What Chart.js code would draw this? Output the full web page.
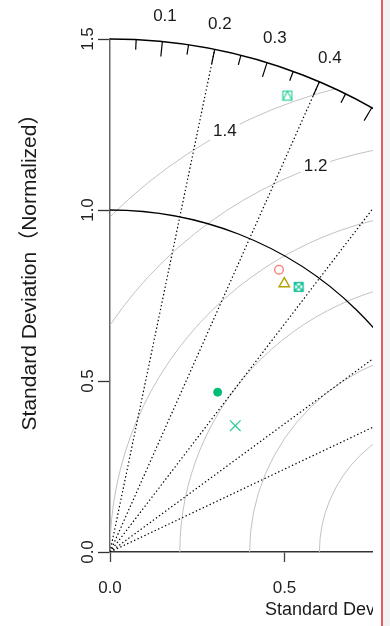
<!DOCTYPE html>
<html>
<head>
<meta charset="utf-8">
<script src="https://cdn.jsdelivr.net/npm/chart.js@4.4.1/dist/chart.umd.min.js"></script>
<style>
  html, body { margin: 0; padding: 0; background: #f2f2f2; }
  #wrap { position: absolute; left: 0; top: 0; width: 381px; height: 626px; background: #fff; border-right: 2px solid #e35b5e; overflow: hidden; }
  canvas { display: block; }
</style>
</head>
<body>
<div id="wrap"><canvas id="taylor" width="373" height="626"></canvas></div>
<script>
// Model statistics: normalized standard deviation and correlation with the reference
const seriesNames = ['M1', 'M2', 'M3', 'M4', 'M5', 'M6'];
const stdDevs = [0.957, 0.930, 0.945, 1.428, 0.560, 0.515];
const correlations = [0.506, 0.537, 0.572, 0.356, 0.551, 0.697];
const seriesColors = ['#F8766D', '#B3A000', '#1CC49A', '#33CFA0', '#00BD73', '#2FCB9C'];

// Axis ticks and diagram grid
const xTickValues = [0, 0.5];
const yTickValues = [0, 0.5, 1.0, 1.5];
const sdMax = 1.5;
const refSd = 1.0;
const corrMajor = [0.1, 0.2, 0.3, 0.4, 0.5, 0.6, 0.7, 0.8, 0.9];
const corrMinor = [0.05, 0.15, 0.25, 0.35, 0.45, 0.55, 0.65, 0.75, 0.85];
const corrLines = [0.2, 0.4, 0.6, 0.8, 0.9];
const rmsLevels = [0.2, 0.4, 0.6, 0.8, 1.0, 1.2, 1.4];
const rmsLabelLevels = [1.2, 1.4];
const xVisibleMax = 0.7536;

const FONT = "'Liberation Sans', Arial, 'Noto Sans CJK SC', sans-serif";

function boxMarker(color, parts) {
  const s = 12, c = document.createElement('canvas');
  c.width = s; c.height = s;
  const g = c.getContext('2d');
  g.strokeStyle = color; g.lineWidth = 1.2;
  const a = 1.5, b = 10.5, m = 6;
  g.strokeRect(a, a, b - a, b - a);
  if (parts.includes('x')) { g.beginPath(); g.moveTo(a, a); g.lineTo(b, b); g.moveTo(b, a); g.lineTo(a, b); g.stroke(); }
  if (parts.includes('o')) { g.beginPath(); g.arc(m, m, 4.3, 0, 2 * Math.PI); g.stroke(); }
  if (parts.includes('t')) { g.beginPath(); g.moveTo(m, a); g.lineTo(b, b); g.lineTo(a, b); g.closePath(); g.stroke(); }
  return c;
}

const markerStyles = [
  { pointStyle: 'circle', pointRadius: 4.3, borderWidth: 1.3, fill: false },
  { pointStyle: 'triangle', pointRadius: 6, borderWidth: 1.4, fill: false },
  { pointStyle: boxMarker(seriesColors[2], 'xo'), pointRadius: 6, borderWidth: 1, fill: false },
  { pointStyle: boxMarker(seriesColors[3], 't'), pointRadius: 6, borderWidth: 1, fill: false },
  { pointStyle: 'circle', pointRadius: 4, borderWidth: 1, fill: true },
  { pointStyle: 'crossRot', pointRadius: 7.5, borderWidth: 1.3, fill: false }
];

const datasets = seriesNames.map((name, i) => {
  const c = correlations[i], s = stdDevs[i];
  const m = markerStyles[i];
  return {
    label: name,
    data: [{ x: s * c, y: s * Math.sqrt(1 - c * c) }],
    pointStyle: m.pointStyle,
    pointRadius: m.pointRadius,
    pointHoverRadius: m.pointRadius,
    borderWidth: m.borderWidth,
    borderColor: seriesColors[i],
    backgroundColor: m.fill ? seriesColors[i] : 'rgba(0,0,0,0)'
  };
});

// Polar grid of the Taylor diagram, drawn in data space through the chart scales
const taylorGrid = {
  id: 'taylorGrid',
  beforeDatasetsDraw(chart) {
    const { ctx, scales: { x: xs, y: ys } } = chart;
    const X = v => xs.getPixelForValue(v), Y = v => ys.getPixelForValue(v);
    const ox = X(0), oy = Y(0);
    const rx = r => X(r) - ox, ry = r => oy - Y(r);
    const polar = (r, c) => [X(r * c), Y(r * Math.sqrt(1 - c * c))];

    ctx.save();
    ctx.beginPath();
    ctx.moveTo(ox, oy);
    ctx.ellipse(ox, oy, rx(sdMax), ry(sdMax), 0, -Math.PI / 2, 0);
    ctx.closePath();
    ctx.clip();

    // centred RMS difference contours
    ctx.strokeStyle = '#c2c2c2';
    ctx.lineWidth = 1;
    rmsLevels.forEach(d => {
      ctx.beginPath();
      ctx.ellipse(X(refSd), oy, rx(d), ry(d), 0, Math.PI, 2 * Math.PI);
      ctx.stroke();
    });

    // contour labels
    ctx.font = '17px ' + FONT;
    ctx.textAlign = 'center';
    ctx.textBaseline = 'middle';
    const R = 1.272;
    rmsLabelLevels.forEach(d => {
      const lx = (R * R - d * d + refSd * refSd) / (2 * refSd);
      const ly = Math.sqrt(R * R - lx * lx);
      const px = X(lx), py = Y(ly);
      const txt = d.toFixed(1);
      const w = ctx.measureText(txt).width;
      ctx.fillStyle = '#fff';
      ctx.fillRect(px - w / 2 - 3, py - 9, w + 6, 18);
      ctx.fillStyle = '#1a1a1a';
      ctx.fillText(txt, px, py);
    });

    // correlation rays
    ctx.strokeStyle = '#000';
    ctx.lineWidth = 1.2;
    ctx.setLineDash([1.4, 2.4]);
    corrLines.forEach(c => {
      const [px, py] = polar(sdMax, c);
      ctx.beginPath();
      ctx.moveTo(ox, oy);
      ctx.lineTo(px, py);
      ctx.stroke();
    });
    ctx.setLineDash([]);

    // reference standard deviation
    ctx.lineWidth = 1.3;
    ctx.beginPath();
    ctx.ellipse(ox, oy, rx(refSd), ry(refSd), 0, -Math.PI / 2, 0);
    ctx.stroke();
    ctx.restore();

    // outer correlation axis
    ctx.save();
    ctx.strokeStyle = '#000';
    ctx.lineWidth = 1.5;
    ctx.beginPath();
    ctx.ellipse(ox, oy, rx(sdMax), ry(sdMax), 0, -Math.PI / 2, 0);
    ctx.stroke();
    ctx.lineWidth = 1.2;
    const tick = (c, len) => {
      const [x1, y1] = polar(sdMax, c);
      const ang = Math.atan2(y1 - oy, x1 - ox);
      ctx.beginPath();
      ctx.moveTo(x1, y1);
      ctx.lineTo(x1 - Math.cos(ang) * len, y1 - Math.sin(ang) * len);
      ctx.stroke();
    };
    corrMajor.forEach(c => tick(c, 15));
    corrMinor.forEach(c => tick(c, 10));
    ctx.fillStyle = '#1a1a1a';
    ctx.font = '17px ' + FONT;
    ctx.textAlign = 'center';
    ctx.textBaseline = 'middle';
    corrMajor.forEach(c => {
      const [px, py] = polar(1.575, c);
      ctx.fillText(c.toFixed(1), px, py);
    });
    ctx.restore();
  },
  afterDraw(chart) {
    const { ctx, chartArea } = chart;
    ctx.save();
    ctx.fillStyle = '#1a1a1a';
    ctx.textBaseline = 'middle';
    ctx.font = '21px ' + FONT;
    ctx.translate(30, 267);
    ctx.rotate(-Math.PI / 2);
    ctx.textAlign = 'center';
    ctx.fillText('Standard Deviation（Normalized）', 0, 0);
    ctx.restore();

    ctx.save();
    ctx.fillStyle = '#1a1a1a';
    ctx.textBaseline = 'middle';
    ctx.textAlign = 'left';
    ctx.font = '18px ' + FONT;
    ctx.fillText('Standard Deviation（Normalized）', chartArea.left + 155, 610);
    ctx.restore();
  }
};

new Chart(document.getElementById('taylor'), {
  type: 'scatter',
  data: { datasets },
  options: {
    responsive: false,
    animation: false,
    devicePixelRatio: 1,
    layout: { autoPadding: false, padding: { top: 39, left: 0, right: 0, bottom: 0 } },
    plugins: { legend: { display: false }, tooltip: { enabled: false } },
    scales: {
      x: {
        type: 'linear', min: 0, max: xVisibleMax,
        afterFit(s) { s.height = 74; },
        afterBuildTicks(s) { s.ticks = xTickValues.map(v => ({ value: v })); },
        grid: { drawOnChartArea: false, tickLength: 10, tickColor: '#444', tickWidth: 1.3 },
        border: { color: '#333', width: 1.5 },
        ticks: { padding: 16, color: '#222', maxRotation: 0, font: { size: 17, family: FONT }, callback: v => Number(v).toFixed(1) }
      },
      y: {
        type: 'linear', min: 0, max: sdMax,
        afterFit(s) { s.width = 110; },
        afterBuildTicks(s) { s.ticks = yTickValues.map(v => ({ value: v })); },
        grid: { drawOnChartArea: false, tickLength: 12, tickColor: '#333', tickWidth: 1.3 },
        border: { color: '#666', width: 1.5 },
        ticks: { padding: -2, color: '#222', minRotation: 90, maxRotation: 90, crossAlign: 'center', font: { size: 17, family: FONT }, callback: v => Number(v).toFixed(1) }
      }
    }
  },
  plugins: [taylorGrid]
});
</script>
</body>
</html>
